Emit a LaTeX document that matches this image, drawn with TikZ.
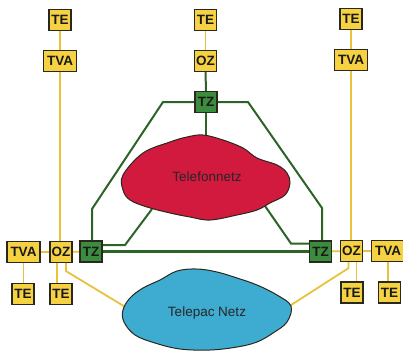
\documentclass[tikz,border=0pt]{standalone}
\usepackage{fontspec}
\setmainfont{Liberation Sans}
\usetikzlibrary{backgrounds}
\definecolor{boxyel}{RGB}{246,210,66}
\definecolor{lineyel}{RGB}{232,194,58}
\definecolor{boxgrn}{RGB}{60,140,62}
\definecolor{linegrn}{RGB}{44,100,40}
\definecolor{cloudred}{RGB}{210,26,62}
\definecolor{cloudblue}{RGB}{62,172,208}
\definecolor{edge}{RGB}{40,40,30}
\tikzset{
  ybox/.style={draw=edge,line width=1.2pt,fill=boxyel,inner sep=0pt,minimum height=21pt,text=black!90,font=\fontsize{13.5}{13.5}\selectfont\bfseries},
  sqbox/.style={ybox,minimum width=22pt},
  widebox/.style={ybox,minimum width=33pt},
  tzbox/.style={sqbox,fill=boxgrn},
  yline/.style={draw=lineyel,line width=1.8pt},
  gline/.style={draw=linegrn,line width=2pt},
  cloud/.style={draw=edge,line width=1pt},
  cloudtext/.style={font=\fontsize{13.5}{13.5}\selectfont,text=black!85}
}
\begin{document}
\begin{tikzpicture}[x=1pt,y=-1pt]
\useasboundingbox (0,0) rectangle (403,350);
% clouds
\fill[cloudred] plot[smooth cycle,tension=0.6] coordinates {(123,175) (143,153) (170,142) (187,137) (203,135) (223,140) (243,148) (257,158) (277,165) (287,173) (290,183) (285,195) (270,203) (257,210) (237,215) (210,220) (190,217) (170,213) (147,207) (130,200) (123,190)};
\draw[cloud] plot[smooth cycle,tension=0.6] coordinates {(123,175) (143,153) (170,142) (187,137) (203,135) (223,140) (243,148) (257,158) (277,165) (287,173) (290,183) (285,195) (270,203) (257,210) (237,215) (210,220) (190,217) (170,213) (147,207) (130,200) (123,190)};
\fill[cloudblue] plot[smooth cycle,tension=0.6] coordinates {(123,310) (130,298) (143,288) (160,280) (177,271) (197,269) (217,272) (237,278) (257,285) (277,295) (291,306) (287,322) (273,333) (257,342) (237,347) (210,350) (180,349) (155,343) (135,335) (124,322)};
\draw[cloud] plot[smooth cycle,tension=0.6] coordinates {(123,310) (130,298) (143,288) (160,280) (177,271) (197,269) (217,272) (237,278) (257,285) (277,295) (291,306) (287,322) (273,333) (257,342) (237,347) (210,350) (180,349) (155,343) (135,335) (124,322)};
\node[cloudtext] (tel) at (207,177) {Telefonnetz};
\node[cloudtext] (tpc) at (207,313) {Telepac Netz};
% boxes
\node[sqbox] (teL) at (60,20) {TE};
\node[widebox] (tvaL) at (60,61) {TVA};
\node[sqbox] (teC) at (205.5,20) {TE};
\node[sqbox] (ozC) at (205.5,61) {OZ};
\node[tzbox] (tzC) at (206,102) {TZ};
\node[sqbox] (teR) at (351,19) {TE};
\node[widebox] (tvaR) at (351,60) {TVA};
\node[widebox] (tvaLL) at (23.5,252) {TVA};
\node[sqbox] (ozL) at (61,252) {OZ};
\node[tzbox] (tzL) at (91,251.5) {TZ};
\node[sqbox] (teLL) at (23,294) {TE};
\node[sqbox] (teL2) at (61,294) {TE};
\node[tzbox] (tzR) at (320.5,251.5) {TZ};
\node[sqbox] (ozR) at (351.5,251) {OZ};
\node[widebox] (tvaRR) at (388,251) {TVA};
\node[sqbox] (teR2) at (352,292.5) {TE};
\node[sqbox] (teRR) at (389.5,292.5) {TE};
% corner coordinates
\coordinate (gL1) at (163,102);
\coordinate (gL2) at (92,209);
\coordinate (gR1) at (248,102);
\coordinate (gR2) at (322,208);
\coordinate (rT) at (206,140);
\coordinate (gL3) at (125,245);
\coordinate (rBL) at (152,209);
\coordinate (gR3) at (291,243.5);
\coordinate (rBR) at (265,206);
\coordinate (bL) at (127,308);
\coordinate (bR) at (288,307);
\begin{scope}[on background layer]
% yellow lines
\draw[yline] (teL) -- (tvaL);
\draw[yline] (tvaL.south) -- (tvaL.south |- ozL.north);
\draw[yline] (teC) -- (ozC);
\draw[yline] (teR) -- (tvaR);
\draw[yline] (tvaR.south) -- (tvaR.south |- ozR.north);
\draw[yline] (tvaLL) -- (ozL) -- (tzL);
\draw[yline] (tvaLL.south) -- (tvaLL.south |- teLL.north);
\draw[yline] ([xshift=-4pt]ozL.south) -- ([xshift=-4pt]ozL.south |- teL2.north);
\draw[yline] ([xshift=5pt]ozL.south) -- ++(0,8) -- (bL);
\draw[yline] (tzR) -- (ozR) -- (tvaRR);
\draw[yline] ([xshift=5pt]ozR.south) -- ([xshift=5pt]ozR.south |- teR2.north);
\draw[yline] ([xshift=-3pt]ozR.south) -- ++(0,6) -- (bR);
\draw[yline] (tvaRR.south) -- (tvaRR.south |- teRR.north);
% green lines
\draw[gline] (ozC) -- (tzC);
\draw[gline] (tzC.west) -- (gL1) -- (gL2) -- (gL2 |- tzL.north);
\draw[gline] (tzC.east) -- (gR1) -- (gR2) -- (gR2 |- tzR.north);
\draw[gline] (tzC.south) -- (rT);
\draw[gline] (tzL.east |- gL3) -- (gL3) -- (rBL);
\draw[gline] (tzR.west |- gR3) -- (gR3) -- (rBR);
\draw[gline,line width=2.5pt] (tzL.east) -- (tzR.west);
\end{scope}
\end{tikzpicture}
\end{document}
